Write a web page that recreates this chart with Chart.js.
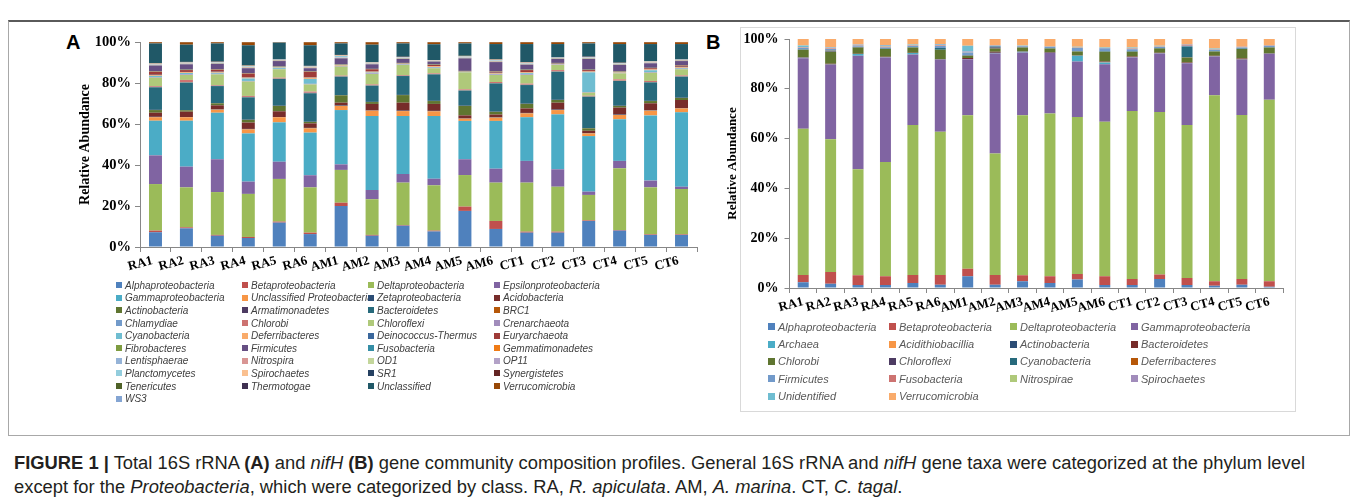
<!DOCTYPE html>
<html>
<head>
<meta charset="utf-8">
<script src="https://cdn.jsdelivr.net/npm/chart.js@4/dist/chart.umd.min.js"></script>
<style>
  html, body { margin: 0; padding: 0; background: #fff; }
  body { width: 1357px; height: 502px; position: relative; overflow: hidden; font-family: "Liberation Sans", Arial, sans-serif; }
  .frame { position: absolute; left: 8px; top: 20px; width: 1342px; height: 416px; border: 1px solid #a8a8a8; border-top: 2px solid #5a5a5a; box-sizing: border-box; }
  .boxB { position: absolute; left: 740px; top: 27px; width: 556px; height: 385px; border: 1px solid #d9d9d9; box-sizing: border-box; }
  .tag { position: absolute; font: bold 20px "Liberation Sans", Arial, sans-serif; color: #000; line-height: 1; }
  canvas { position: absolute; }
  .legend { position: absolute; display: grid; }
  .legend .it { display: flex; align-items: center; white-space: nowrap; font-style: italic; }
  .legend .sw { display: inline-block; flex: none; }
  #legA { left: 116px; top: 279px; grid-template-columns: repeat(4, 126px); grid-auto-rows: 12.6px; font-size: 10px; color: #404040; }
  #legA .sw { width: 6px; height: 6px; margin-right: 3px; }
  #legB { left: 768px; top: 318px; grid-template-columns: repeat(4, 121px); grid-auto-rows: 17.4px; font-size: 11px; color: #595959; }
  #legB .sw { width: 7px; height: 7px; margin-right: 3px; }
  .caption { position: absolute; left: 14px; top: 451px; font-family: "Liberation Sans", Arial, sans-serif; font-size: 18px; line-height: 24px; color: #231f20; white-space: nowrap; transform-origin: 0 0; }
</style>
</head>
<body>
<div class="frame"></div>
<div class="boxB"></div>
<div class="tag" style="left:66px;top:32px;">A</div>
<div class="tag" style="left:706px;top:32px;">B</div>
<canvas id="chartA" width="720" height="282" style="left:0;top:0;"></canvas>
<canvas id="chartB" width="580" height="320" style="left:720px;top:0;"></canvas>
<div class="legend" id="legA"></div>
<div class="legend" id="legB"></div>
<div class="caption" id="caption">
  <span id="capLine1"><b>FIGURE 1 |</b> Total 16S rRNA <b>(A)</b> and <i>nifH</i> <b>(B)</b> gene community composition profiles. General 16S rRNA and <i>nifH</i> gene taxa were categorized at the phylum level</span><br>
  <span>except for the <i>Proteobacteria</i>, which were categorized by class. RA, <i>R. apiculata</i>. AM, <i>A. marina</i>. CT, <i>C. tagal</i>.</span>
</div>
<script>
// Samples: R. apiculata (RA), A. marina (AM), C. tagal (CT)
const samples = ['RA1','RA2','RA3','RA4','RA5','RA6','AM1','AM2','AM3','AM4','AM5','AM6','CT1','CT2','CT3','CT4','CT5','CT6'];
const percentTicks = [0, 20, 40, 60, 80, 100];

// ---- Panel A: 16S rRNA relative abundance (%) ----
const a16Alphaproteobacteria = [7.2, 9.1, 5.5, 4.4, 11.9, 6.3, 20.0, 5.5, 10.4, 7.6, 17.6, 8.8, 7.0, 7.0, 12.7, 8.0, 5.9, 5.9];
const a16Betaproteobacteria = [0.8, 0.5, 0.4, 0.5, 0.5, 0.7, 1.6, 0.4, 0.3, 0.4, 2.1, 3.9, 0.5, 0.5, 0.3, 0.3, 0.3, 0.3];
const a16Deltaproteobacteria = [22.7, 19.5, 20.9, 21.0, 20.8, 22.1, 16.0, 17.4, 20.7, 22.1, 15.4, 18.7, 23.9, 21.9, 12.4, 30.1, 22.9, 22.1];
const a16Epsilonproteobacteria = [14.0, 10.1, 16.0, 6.0, 8.4, 5.9, 2.7, 4.5, 4.2, 3.2, 7.7, 6.8, 10.6, 8.5, 1.6, 3.6, 3.3, 1.1];
const a16Gammaproteobacteria = [16.9, 22.4, 22.7, 23.5, 19.2, 20.8, 26.5, 36.1, 28.3, 30.6, 18.7, 23.3, 21.3, 26.8, 27.1, 20.3, 31.8, 36.3];
const a16UnclassifiedProteo = [1.7, 1.7, 1.5, 2.0, 2.5, 2.1, 2.0, 2.6, 2.4, 2.3, 1.1, 1.6, 1.9, 2.1, 1.3, 2.1, 2.3, 1.9];
const a16Zetaproteobacteria = [0.2, 0.1, 0.2, 0.2, 0.1, 0.2, 0.2, 0.1, 0.2, 0.2, 0.1, 0.2, 0.2, 0.2, 0.1, 0.2, 0.2, 0.1];
const a16Acidobacteria = [2.0, 2.6, 1.9, 3.1, 2.8, 2.2, 1.4, 3.2, 3.9, 3.4, 1.5, 1.3, 2.2, 3.4, 1.2, 3.4, 3.4, 4.0];
const a16Actinobacteria = [1.3, 0.7, 1.0, 1.3, 2.6, 0.7, 3.6, 0.9, 3.7, 1.4, 4.6, 1.3, 2.2, 1.3, 1.2, 0.8, 1.1, 1.0];
const a16Armatimonadetes = [0.1, 0.1, 0.1, 0.1, 0.1, 0.1, 0.1, 0.1, 0.1, 0.1, 0.1, 0.1, 0.1, 0.1, 0.1, 0.1, 0.1, 0.1];
const a16Bacteroidetes = [11.0, 13.4, 8.3, 10.9, 13.1, 13.9, 9.0, 7.9, 9.2, 12.9, 7.4, 13.8, 9.1, 13.7, 15.3, 12.1, 9.0, 10.3];
const a16BRC1 = [0.1, 0.1, 0.1, 0.1, 0.1, 0.1, 0.1, 0.1, 0.1, 0.1, 0.1, 0.1, 0.1, 0.1, 0.1, 0.1, 0.1, 0.1];
const a16Chlamydiae = [0.1, 0.1, 0.1, 0.1, 0.1, 0.1, 0.1, 0.1, 0.1, 0.1, 0.1, 0.1, 0.1, 0.1, 0.1, 0.1, 0.1, 0.1];
const a16Chlorobi = [0.4, 1.1, 0.3, 0.5, 0.4, 0.6, 0.3, 0.4, 0.3, 0.3, 0.4, 0.5, 0.5, 0.6, 0.3, 0.6, 0.5, 0.4];
const a16Chloroflexi = [4.1, 2.4, 5.2, 7.0, 4.1, 3.5, 4.4, 5.1, 4.9, 2.5, 8.3, 3.4, 4.2, 2.5, 1.5, 2.9, 4.0, 3.0];
const a16Crenarchaeota = [0.3, 0.3, 0.3, 0.3, 0.2, 0.3, 0.3, 0.3, 0.2, 0.3, 0.1, 0.3, 0.3, 0.2, 0.3, 0.2, 0.3, 0.3];
const a16Cyanobacteria = [0.6, 0.7, 0.5, 1.2, 0.6, 2.4, 0.1, 0.4, 0.2, 0.3, 0.1, 0.3, 0.6, 0.1, 9.6, 0.1, 0.9, 0.4];
const a16Deferribacteres = [0.4, 0.4, 0.4, 0.4, 0.3, 0.6, 0.4, 0.4, 0.2, 0.4, 0.1, 0.4, 0.4, 0.2, 0.4, 0.3, 0.4, 0.4];
const a16DeinococcusThermus = [0.1, 0.1, 0.1, 0.1, 0.1, 0.1, 0.1, 0.1, 0.1, 0.1, 0.1, 0.1, 0.1, 0.1, 0.1, 0.1, 0.1, 0.1];
const a16Euryarchaeota = [1.5, 0.9, 1.0, 1.9, 0.1, 2.8, 0.1, 1.1, 0.1, 0.5, 0.1, 0.5, 1.0, 0.2, 0.6, 0.1, 0.5, 0.6];
const a16Fibrobacteres = [0.2, 0.2, 0.2, 0.2, 0.2, 0.2, 0.2, 0.2, 0.2, 0.2, 0.2, 0.2, 0.2, 0.2, 0.2, 0.2, 0.2, 0.2];
const a16Firmicutes = [2.8, 2.6, 2.6, 2.4, 2.5, 1.5, 2.8, 2.2, 1.9, 1.4, 6.1, 4.5, 2.4, 1.9, 5.2, 3.1, 2.2, 2.0];
const a16Fusobacteria = [0.1, 0.1, 0.1, 0.1, 0.1, 0.1, 0.1, 0.1, 0.1, 0.1, 0.1, 0.1, 0.1, 0.1, 0.1, 0.1, 0.1, 0.1];
const a16Gemmatimonadetes = [0.1, 0.1, 0.1, 0.1, 0.1, 0.1, 0.1, 0.1, 0.1, 0.1, 0.1, 0.1, 0.1, 0.1, 0.1, 0.1, 0.1, 0.1];
const a16Lentisphaerae = [0.1, 0.1, 0.1, 0.1, 0.1, 0.1, 0.1, 0.1, 0.1, 0.1, 0.1, 0.1, 0.1, 0.1, 0.1, 0.1, 0.1, 0.1];
const a16Nitrospira = [0.1, 0.1, 0.1, 0.1, 0.1, 0.1, 0.1, 0.1, 0.1, 0.1, 0.1, 0.1, 0.1, 0.1, 0.1, 0.1, 0.1, 0.1];
const a16OD1 = [0.1, 0.1, 0.1, 0.1, 0.1, 0.1, 0.1, 0.1, 0.1, 0.1, 0.1, 0.1, 0.1, 0.1, 0.1, 0.1, 0.1, 0.1];
const a16OP11 = [0.1, 0.1, 0.1, 0.1, 0.1, 0.1, 0.1, 0.1, 0.1, 0.1, 0.1, 0.1, 0.1, 0.1, 0.1, 0.1, 0.1, 0.1];
const a16Planctomycetes = [0.2, 0.2, 0.2, 0.3, 0.1, 0.2, 0.6, 0.2, 0.2, 0.1, 0.3, 0.3, 0.3, 0.1, 0.2, 0.2, 0.2, 0.1];
const a16Spirochaetes = [0.2, 0.2, 0.2, 0.3, 0.1, 0.2, 0.3, 0.2, 0.2, 0.1, 0.2, 0.3, 0.2, 0.1, 0.2, 0.2, 0.2, 0.1];
const a16SR1 = [0, 0.1, 0, 0, 0, 0, 0.1, 0, 0, 0, 0, 0, 0, 0, 0.1, 0, 0, 0];
const a16Synergistetes = [0.1, 0.1, 0.1, 0.1, 0, 0.1, 0.1, 0.1, 0.1, 0, 0.1, 0.1, 0.1, 0, 0.1, 0.1, 0.1, 0];
const a16Tenericutes = [0, 0, 0, 0.1, 0, 0, 0, 0, 0, 0, 0.1, 0, 0, 0, 0, 0, 0, 0];
const a16Thermotogae = [0, 0, 0, 0, 0, 0.1, 0, 0, 0, 0, 0, 0, 0.1, 0, 0, 0, 0, 0];
const a16Unclassified = [9.7, 8.4, 8.9, 9.8, 8.2, 10.0, 5.6, 8.5, 6.5, 7.7, 6.0, 7.5, 8.8, 6.5, 6.4, 9.1, 8.3, 7.5];
const a16Verrucomicrobia = [0.6, 1.2, 0.6, 1.5, 0.2, 1.5, 0.6, 1.2, 0.6, 1.0, 0.6, 0.9, 0.9, 0.9, 0.6, 0.9, 0.9, 0.9];
const a16WS3 = [0.1, 0.1, 0.1, 0.1, 0.1, 0.1, 0.1, 0.1, 0.1, 0.1, 0.1, 0.1, 0.1, 0.1, 0.1, 0.1, 0.1, 0.1];

// ---- Panel B: nifH relative abundance (%) ----
const bNifAlphaproteobacteria = [2.3, 1.7, 1.2, 1.2, 2.0, 1.3, 4.7, 1.3, 2.7, 2.0, 3.4, 1.2, 1.2, 3.6, 1.2, 0.9, 1.3, 0.5];
const bNifBetaproteobacteria = [2.9, 4.7, 3.9, 3.5, 3.2, 3.9, 3.0, 3.9, 2.4, 2.7, 2.2, 3.5, 2.4, 1.8, 2.8, 1.8, 2.3, 2.2];
const bNifDeltaproteobacteria = [58.8, 53.3, 42.6, 45.9, 60.3, 57.6, 61.7, 48.8, 64.3, 65.4, 63.1, 62.1, 67.5, 65.3, 61.5, 74.7, 65.9, 72.9];
const bNifGammaproteobacteria = [28.3, 30.0, 45.6, 42.0, 28.3, 28.9, 22.5, 40.2, 25.2, 24.3, 22.3, 23.1, 21.5, 23.5, 24.8, 15.6, 22.2, 18.4];
const bNifArchaea = [0.2, 0.1, 0.7, 0.1, 0.6, 0.1, 0.1, 0.1, 0.3, 0.1, 2.3, 0.7, 0.1, 0.1, 0.1, 0.1, 0.1, 0.1];
const bNifAcidithiobacillia = [0, 0, 0, 0, 0, 0, 0, 0, 0, 0, 0, 0.1, 0, 0, 0, 0, 0, 0];
const bNifActinobacteria = [0, 0, 0, 0, 0, 0, 0, 0.2, 0, 0, 0, 0, 0, 0, 0, 0, 0, 0];
const bNifBacteroidetes = [0.2, 0.3, 0.1, 0.2, 0.1, 0.2, 0.4, 0.4, 0.1, 0.3, 0.1, 0.3, 0.3, 0.2, 0.2, 0.2, 0.4, 0.2];
const bNifChlorobi = [3.0, 4.8, 2.5, 3.1, 2.1, 3.7, 0.9, 1.3, 1.6, 1.4, 1.6, 3.9, 1.9, 1.7, 2.0, 1.7, 3.8, 2.3];
const bNifChloroflexi = [0, 0.2, 0.1, 0, 0, 0, 0.1, 0.4, 0, 0, 0, 0, 0, 0, 0.1, 0, 0, 0];
const bNifCyanobacteria = [0.1, 0.2, 0.1, 0.2, 0.1, 0.7, 0.1, 0.4, 0.1, 0.1, 0.1, 0.2, 0.2, 0.2, 4.3, 0.1, 0.2, 0.1];
const bNifDeferribacteres = [0, 0.1, 0, 0, 0, 0, 0, 0, 0, 0, 0, 0, 0, 0, 0, 0, 0, 0];
const bNifFirmicutes = [0.6, 0.6, 0.3, 0.4, 0.5, 0.8, 1.1, 0.3, 0.4, 0.5, 1.3, 1.2, 0.8, 0.4, 0.3, 0.6, 0.4, 0.5];
const bNifFusobacteria = [0.1, 0.2, 0.1, 0.3, 0.1, 0.2, 0.1, 0.1, 0.1, 0.1, 0.1, 0.1, 0.2, 0.1, 0.4, 0.1, 0.1, 0.1];
const bNifNitrospirae = [0.1, 0.1, 0.1, 0.2, 0.1, 0.1, 0.1, 0.1, 0.1, 0.1, 0.1, 0.1, 0.1, 0.1, 0.1, 0.1, 0.1, 0.1];
const bNifSpirochaetes = [0.2, 0.2, 0.4, 0.2, 0.2, 0.2, 0.2, 0.1, 0.1, 0.1, 0.1, 0.1, 0.2, 0.1, 0.2, 0.1, 0.1, 0.2];
const bNifUnidentified = [0.6, 0.2, 0.1, 0.3, 0.2, 0.3, 2.3, 0, 0.1, 0.1, 0.2, 0.2, 0.2, 0.2, 0, 0.2, 0, 0];
const bNifVerrucomicrobia = [2.6, 3.3, 2.2, 2.4, 2.2, 2.0, 2.7, 2.4, 2.5, 2.8, 3.1, 3.2, 3.4, 2.7, 2.0, 3.8, 3.1, 2.4];

// Taxon names in stacking order (bottom to top), paired with their series
const seriesA = [
  ['Alphaproteobacteria', a16Alphaproteobacteria],
  ['Betaproteobacteria', a16Betaproteobacteria],
  ['Deltaproteobacteria', a16Deltaproteobacteria],
  ['Epsilonproteobacteria', a16Epsilonproteobacteria],
  ['Gammaproteobacteria', a16Gammaproteobacteria],
  ['Unclassified Proteobacteria', a16UnclassifiedProteo],
  ['Zetaproteobacteria', a16Zetaproteobacteria],
  ['Acidobacteria', a16Acidobacteria],
  ['Actinobacteria', a16Actinobacteria],
  ['Armatimonadetes', a16Armatimonadetes],
  ['Bacteroidetes', a16Bacteroidetes],
  ['BRC1', a16BRC1],
  ['Chlamydiae', a16Chlamydiae],
  ['Chlorobi', a16Chlorobi],
  ['Chloroflexi', a16Chloroflexi],
  ['Crenarchaeota', a16Crenarchaeota],
  ['Cyanobacteria', a16Cyanobacteria],
  ['Deferribacteres', a16Deferribacteres],
  ['Deinococcus-Thermus', a16DeinococcusThermus],
  ['Euryarchaeota', a16Euryarchaeota],
  ['Fibrobacteres', a16Fibrobacteres],
  ['Firmicutes', a16Firmicutes],
  ['Fusobacteria', a16Fusobacteria],
  ['Gemmatimonadetes', a16Gemmatimonadetes],
  ['Lentisphaerae', a16Lentisphaerae],
  ['Nitrospira', a16Nitrospira],
  ['OD1', a16OD1],
  ['OP11', a16OP11],
  ['Planctomycetes', a16Planctomycetes],
  ['Spirochaetes', a16Spirochaetes],
  ['SR1', a16SR1],
  ['Synergistetes', a16Synergistetes],
  ['Tenericutes', a16Tenericutes],
  ['Thermotogae', a16Thermotogae],
  ['Unclassified', a16Unclassified],
  ['Verrucomicrobia', a16Verrucomicrobia],
  ['WS3', a16WS3]
];
const coloursA = [
  '#4F81BD', '#C0504D', '#9BBB59', '#8064A2', '#4BACC6', '#F79646',
  '#2C4D75', '#772C2A', '#5F7530', '#4D3B62', '#276A7C', '#B65708',
  '#729ACA', '#CD7371', '#AFC97A', '#A18CBB', '#6FBDD1', '#F9AB6B',
  '#3A679C', '#9F3B38', '#7E9C40', '#664F83', '#358EA6', '#F07B15',
  '#95B3D7', '#D99694', '#C3D69B', '#B3A2C7', '#93CDDD', '#FAC090',
  '#254061', '#632523', '#4F6228', '#3F3151', '#205867', '#984807',
  '#84A5D3'
];

const seriesB = [
  ['Alphaproteobacteria', bNifAlphaproteobacteria],
  ['Betaproteobacteria', bNifBetaproteobacteria],
  ['Deltaproteobacteria', bNifDeltaproteobacteria],
  ['Gammaproteobacteria', bNifGammaproteobacteria],
  ['Archaea', bNifArchaea],
  ['Acidithiobacillia', bNifAcidithiobacillia],
  ['Actinobacteria', bNifActinobacteria],
  ['Bacteroidetes', bNifBacteroidetes],
  ['Chlorobi', bNifChlorobi],
  ['Chloroflexi', bNifChloroflexi],
  ['Cyanobacteria', bNifCyanobacteria],
  ['Deferribacteres', bNifDeferribacteres],
  ['Firmicutes', bNifFirmicutes],
  ['Fusobacteria', bNifFusobacteria],
  ['Nitrospirae', bNifNitrospirae],
  ['Spirochaetes', bNifSpirochaetes],
  ['Unidentified', bNifUnidentified],
  ['Verrucomicrobia', bNifVerrucomicrobia]
];
const coloursB = [
  '#4F81BD', '#C0504D', '#9BBB59', '#8064A2', '#4BACC6', '#F79646',
  '#2C4D75', '#772C2A', '#5F7530', '#4D3B62', '#276A7C', '#B65708',
  '#729ACA', '#CD7371', '#AFC97A', '#A18CBB', '#6FBDD1', '#F9AB6B'
];

const serif = '"Liberation Serif", "Times New Roman", serif';
const axisGrey = '#878787';

function buildChart(canvasId, series, colours, geom) {
  const datasets = series.map(([name, values], i) => ({
    label: name,
    data: values,
    backgroundColor: colours[i],
    borderWidth: 0,
    barPercentage: geom.barPct,
    categoryPercentage: 1.0
  }));
  return new Chart(document.getElementById(canvasId), {
    type: 'bar',
    data: { labels: samples, datasets },
    options: {
      responsive: false,
      animation: false,
      devicePixelRatio: 1,
      layout: { padding: { left: geom.padLeft, top: geom.padTop, right: geom.padRight, bottom: 0 } },
      plugins: { legend: { display: false }, tooltip: { enabled: false } },
      scales: {
        x: {
          stacked: true,
          offset: true,
          grid: { offset: true, drawOnChartArea: false, drawTicks: true, tickLength: 5, color: axisGrey },
          border: { color: axisGrey, width: 1 },
          ticks: {
            color: '#000',
            font: { family: serif, weight: 'bold', size: geom.xFont },
            minRotation: geom.rot, maxRotation: geom.rot,
            padding: 1,
            labelOffset: geom.labelOffset,
            autoSkip: false
          },
          afterFit: (axis) => { axis.height = geom.xHeight; }
        },
        y: {
          stacked: true,
          min: 0,
          max: 100,
          afterBuildTicks: (axis) => { axis.ticks = percentTicks.map(v => ({ value: v })); },
          grid: { drawOnChartArea: false, drawTicks: true, tickLength: 5, color: axisGrey },
          border: { color: axisGrey, width: 1 },
          ticks: {
            color: '#000',
            font: { family: serif, weight: 'bold', size: geom.yFont },
            padding: geom.yTickPad,
            callback: (v) => v + '%'
          },
          title: {
            display: true,
            text: 'Relative Abundance',
            color: '#000',
            font: { family: serif, weight: 'bold', size: geom.titleFont },
            padding: { top: 0, bottom: 0 }
          },
          afterFit: (axis) => { axis.width = geom.yWidth; }
        }
      }
    }
  });
}

const chartA = buildChart('chartA', seriesA, coloursA, {
  barPct: 0.42, padLeft: 77, padTop: 42, padRight: 23, yWidth: 63, xHeight: 35,
  xFont: 13, yFont: 14.5, titleFont: 14, yTickPad: 4, rot: 15, labelOffset: -3
});
const chartB = buildChart('chartB', seriesB, coloursB, {
  barPct: 0.40, padLeft: 5, padTop: 39, padRight: 17, yWidth: 64.5, xHeight: 32,
  xFont: 13, yFont: 14, titleFont: 13, yTickPad: 6, rot: 15, labelOffset: 0
});

// Four-column legends built from each chart's datasets
function buildLegend(chart, elId) {
  const el = document.getElementById(elId);
  chart.data.datasets.forEach(ds => {
    const item = document.createElement('div');
    item.className = 'it';
    const sw = document.createElement('span');
    sw.className = 'sw';
    sw.style.background = ds.backgroundColor;
    const tx = document.createElement('span');
    tx.textContent = ds.label;
    item.appendChild(sw);
    item.appendChild(tx);
    el.appendChild(item);
  });
}
buildLegend(chartA, 'legA');
buildLegend(chartB, 'legB');

// Stretch the caption so its first line spans the figure width
const capLine = document.getElementById('capLine1');
const capWidth = capLine.getBoundingClientRect().width;
document.getElementById('caption').style.transform = 'scaleX(' + (1291 / capWidth) + ')';
</script>
</body>
</html>
